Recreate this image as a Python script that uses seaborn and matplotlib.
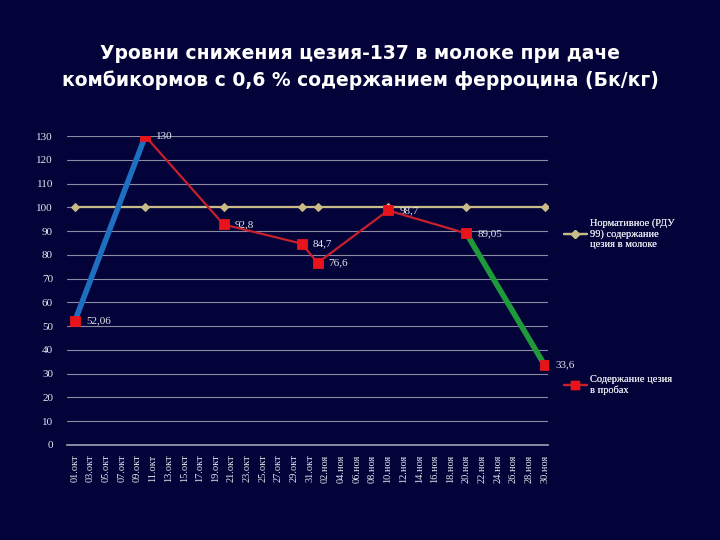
import seaborn as sns
import matplotlib.pyplot as plt
import matplotlib.lines as mlines
import pandas as pd

# data
dates = pd.to_datetime(["2010-10-01", "2010-10-10", "2010-10-20", "2010-10-30",
                        "2010-11-01", "2010-11-10", "2010-11-20", "2010-11-30"])
cesium = [52.06, 130, 92.8, 84.7, 76.6, 98.7, 89.05, 33.6]
norm = [100, 100, 100, 100, 100, 100, 100, 100]
point_labels = ["52,06", "130", "92,8", "84,7", "76,6", "98,7", "89,05", "33,6"]
months = {10: "окт", 11: "ноя"}

bg = "#03033a"
tan = "#c8bb86"
red = "#c8202a"
marker_red = "#e8141c"
blue = "#1f6fc0"
green = "#1e9a3a"
txt = "#e6e6ee"


def main():
    sns.set_theme(style="white")
    plt.rcParams["font.family"] = ["Liberation Serif", "DejaVu Serif"]

    fig = plt.figure(figsize=(7.2, 5.4), dpi=100, facecolor=bg)
    ax = fig.add_axes([0.093, 0.176, 0.668, 0.572])
    ax.set_facecolor(bg)

    # normative level
    sns.lineplot(x=dates, y=norm, ax=ax, color=tan, lw=1.6, marker="D",
                 markersize=4, markeredgecolor=tan, zorder=3)
    # measured content: red middle part, blue first drop-in, green last drop
    sns.lineplot(x=dates[1:-1], y=cesium[1:-1], ax=ax, color=red, lw=1.6, zorder=4)
    sns.lineplot(x=dates[:2], y=cesium[:2], ax=ax, color=blue, lw=4, zorder=4)
    sns.lineplot(x=dates[-2:], y=cesium[-2:], ax=ax, color=green, lw=4, zorder=4)
    sns.scatterplot(x=dates, y=cesium, ax=ax, marker="s", color=marker_red,
                    s=55, edgecolor=marker_red, zorder=6)

    for d, v, lab in zip(dates, cesium, point_labels):
        ax.annotate(lab, (d, v), xytext=(8, 0), textcoords="offset points",
                    color=txt, fontsize=8, va="center", ha="left")

    ticks = pd.date_range("2010-10-01", "2010-11-30", freq="2D")
    ax.set_xticks(ticks)
    ax.set_xticklabels([f"{t.day:02d}.{months[t.month]}" for t in ticks],
                       rotation=90, fontsize=7.5, color=txt)
    ax.set_xlim(pd.Timestamp("2010-09-30"), pd.Timestamp("2010-11-30 10:00"))

    ax.set_ylim(0, 130)
    ax.set_yticks(range(0, 131, 10))
    ax.tick_params(axis="y", labelsize=8, labelcolor=txt, length=0, pad=10)
    ax.tick_params(axis="x", length=4, color="#9a9aae", direction="out", pad=3)
    ax.yaxis.grid(True, color="#8a8aa0", lw=0.8)
    ax.set_axisbelow(True)
    for side in ["left", "right", "top"]:
        ax.spines[side].set_visible(False)
    ax.spines["bottom"].set_color("#9a9aae")
    ax.set_xlabel("")
    ax.set_ylabel("")

    fig.text(0.5, 1 - 67 / 540,
             "Уровни снижения цезия-137 в молоке при даче\n"
             "комбикормов с 0,6 % содержанием ферроцина (Бк/кг)",
             ha="center", va="center", color="white", fontsize=13.5,
             fontweight="bold", family="DejaVu Sans", linespacing=1.45)

    h_norm = mlines.Line2D([], [], color=tan, lw=1.6, marker="D", markersize=4)
    h_ces = mlines.Line2D([], [], color=red, lw=1.6, marker="s", markersize=6,
                          markerfacecolor=marker_red, markeredgecolor=marker_red)
    for h, lab, y in [(h_norm, "Нормативное (РДУ\n99) содержание\nцезия в молоке", 1 - 225 / 540),
                      (h_ces, "Содержание цезия\nв пробах", 1 - 382 / 540)]:
        leg = fig.legend(handles=[h], labels=[lab], loc="upper left",
                         bbox_to_anchor=(0.77, y + 0.03), frameon=False,
                         fontsize=7.5, handlelength=2.2, handletextpad=0.3,
                         labelcolor=txt)
        fig.add_artist(leg)

    fig.savefig("out.png", dpi=100, facecolor=bg)


if __name__ == "__main__":
    main()
